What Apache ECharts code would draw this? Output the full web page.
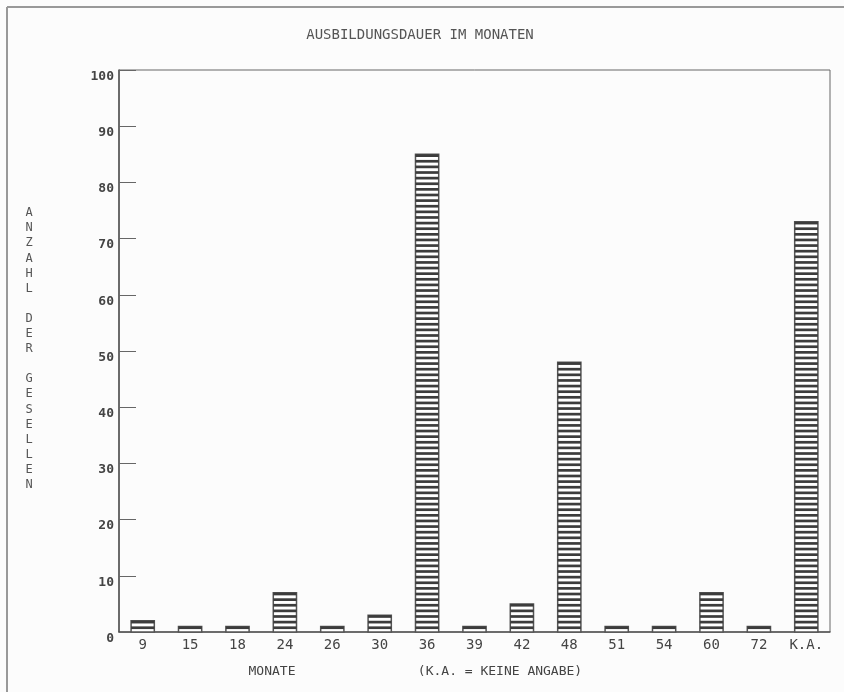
<!DOCTYPE html>
<html><head><meta charset="utf-8">
<script src="https://cdn.jsdelivr.net/npm/echarts@6/dist/echarts.min.js"></script>
<style>html,body{margin:0;padding:0;background:#fcfcfc}#c{width:844px;height:692px}</style>
</head><body><div id="c"></div><script>
const categories = ['9','15','18','24','26','30','36','39','42','48','51','54','60','72','K.A.'];
const values = [2,1,1,7,1,3,85,1,5,48,1,1,7,1,73];
const yMin = 0, yMax = 100, yStep = 10;
const titleText = 'AUSBILDUNGSDAUER IM MONATEN';
const yNameText = 'ANZAHL DER GESELLEN';
const xNameText = 'MONATE';
const xNoteText = '(K.A. = KEINE ANGABE)';

const MONO = '"DejaVu Sans Mono", "Liberation Mono", monospace';
const chart = echarts.init(document.getElementById('c'), null, {renderer:'canvas'});

function renderItem(params, api){
  const i = api.value(0), v = api.value(1);
  const base = api.coord([i, 0]);
  const top = api.coord([i, v]);
  const bw = api.size([1, 0])[0] * 0.49;
  const x = base[0] - bw / 2;
  const children = [{
    type:'rect',
    shape:{x:x, y:top[1], width:bw, height:base[1]-top[1]},
    style:{fill:'#ffffff', stroke:'#555555', lineWidth:1.5}
  }];
  for (let k = 1; k <= v; k++) {
    const yk = api.coord([i, k])[1];
    children.push({type:'rect', shape:{x:x, y:yk, width:bw, height:2.7}, style:{fill:'#3c3c3c'}});
  }
  return {type:'group', children:children};
}

chart.setOption({
  backgroundColor:'#fcfcfc',
  animation:false,
  grid:{left:119, right:14, top:70, bottom:60, show:true, borderColor:'#666', borderWidth:1, backgroundColor:'transparent'},
  xAxis:{
    type:'category', data:categories, boundaryGap:true,
    axisTick:{show:false},
    axisLine:{lineStyle:{color:'#555', width:1.5}},
    axisLabel:{fontFamily:MONO, fontSize:14, color:'#444', margin:6, interval:0}
  },
  yAxis:{
    type:'value', min:yMin, max:yMax, interval:yStep,
    splitLine:{show:false},
    axisLine:{show:true, lineStyle:{color:'#555', width:1.5}},
    axisTick:{show:true, inside:true, length:17, lineStyle:{color:'#666'}},
    axisLabel:{fontFamily:MONO, fontSize:13, fontWeight:'bold', color:'#444', margin:5, verticalAlign:'top'}
  },
  series:[{
    type:'custom',
    renderItem:renderItem,
    data:values.map(function(v,i){return [i, v];}),
    encode:{x:0, y:1}
  }],
  graphic:[
    {type:'line', shape:{x1:7, y1:7, x2:844, y2:7}, style:{stroke:'#999', lineWidth:2}},
    {type:'line', shape:{x1:7, y1:7, x2:7, y2:692}, style:{stroke:'#999', lineWidth:2}},
    {type:'text', x:420, y:35, style:{text:titleText, font:'14px ' + MONO, fill:'#555', align:'center', verticalAlign:'middle'}},
    {type:'text', x:29, y:349, style:{text:yNameText.split('').join('\n'), font:'12px ' + MONO, fill:'#555', align:'center', verticalAlign:'middle', lineHeight:15.1}},
    {type:'text', x:272, y:672, style:{text:xNameText, font:'13px ' + MONO, fill:'#444', align:'center', verticalAlign:'middle'}},
    {type:'text', x:500, y:672, style:{text:xNoteText, font:'13px ' + MONO, fill:'#444', align:'center', verticalAlign:'middle'}}
  ]
});
</script></body></html>
